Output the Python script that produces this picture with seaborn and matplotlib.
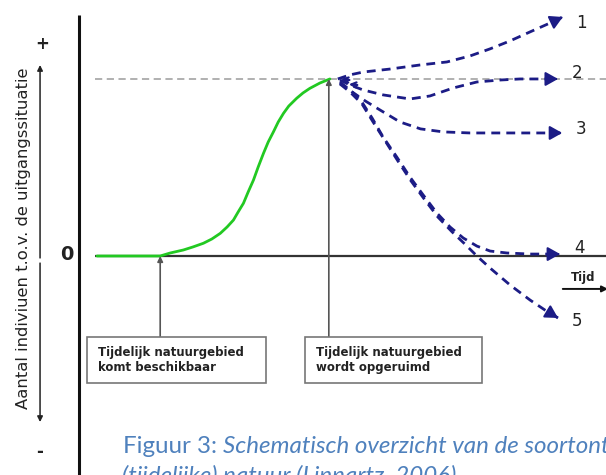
import pandas as pd
import matplotlib.pyplot as plt
import seaborn as sns
from matplotlib.patches import Rectangle

sns.set_style("white")
plt.rcParams['font.family'] = ['DejaVu Sans']

# Groei op tijdelijk natuurgebied (tijd in eenheden, aantal t.o.v. uitgangssituatie, piek = 100)
groei_tijd = [3.4, 15.4, 17.3, 19.8, 21.6, 23.6, 25.2, 26.8, 28.1, 29.3, 30.2, 31.2, 32.1, 33.1,
              34.0, 35.0, 35.9, 36.9, 37.8, 38.8, 39.8, 41.3, 42.5, 43.8, 45.7, 47.6]
groei_aantal = [0, 0, 1.7, 3.4, 5.1, 7.2, 9.6, 12.8, 16.4, 20.3, 24.9, 29.8, 36.2, 42.9,
                50.3, 58.0, 64.4, 70.2, 75.7, 80.6, 84.7, 89.1, 92.1, 94.7, 97.7, 100]

# Scenario's na het opruimen van het gebied
s1_tijd = [49.1, 51.4, 53.9, 59.0, 64.7, 69.8, 74.2, 78.0, 81.8, 85.6, 89.0, 91.8]
s1_aantal = [100, 102.3, 103.9, 105.6, 107.9, 109.6, 113.0, 117.0, 121.5, 126.6, 131.1, 135.0]
s2_tijd = [49.5, 51.4, 53.9, 57.7, 62.8, 66.6, 71.0, 75.5, 79.9, 83.7, 90.9]
s2_aantal = [99.4, 96.6, 93.8, 91.0, 88.7, 90.4, 94.9, 98.3, 99.4, 100, 100]
s3_tijd = [49.5, 51.8, 54.3, 57.1, 60.9, 64.8, 69.1, 74.2, 91.7]
s3_aantal = [98.3, 92.7, 87.6, 82.5, 75.7, 71.8, 70.1, 69.5, 69.5]
s4_tijd = [49.5, 51.4, 53.3, 55.6, 57.7, 60.3, 62.8, 65.3, 67.9, 70.4, 72.9, 75.5, 78.0, 81.2,
           85.6, 91.3]
s4_aantal = [97.7, 93.8, 88.7, 78.0, 67.2, 55.9, 44.6, 34.5, 24.3, 16.4, 10.2, 5.6, 2.8, 1.7,
             1.1, 1.1]
s5_tijd = [49.5, 51.4, 53.7, 55.8, 58.1, 60.5, 63.0, 65.5, 68.1, 70.8, 73.2, 75.5, 78.0, 81.8,
           85.6, 88.4, 90.9]
s5_aantal = [97.2, 92.7, 85.9, 75.7, 65.0, 53.7, 42.4, 32.2, 22.0, 13.6, 6.8, 0, -6.8, -16.4,
             -24.9, -30.5, -35.0]
scenario_labels = ['1', '2', '3', '4', '5']

moment_beschikbaar = 15.4
moment_opgeruimd = 47.4
box_teksten = ['Tijdelijk natuurgebied\nkomt beschikbaar',
               'Tijdelijk natuurgebied\nwordt opgeruimd']

groen = '#22c922'
blauw = '#1c1c86'
caption_kleur = '#4f81bd'

fig = plt.figure(figsize=(6.06, 4.75), dpi=100)
ax = fig.add_axes([0, 0, 1, 1])
ax.set_xlim(-15, 100)
ax.set_ylim(-123.7, 144.6)
ax.axis('off')

# assen
ax.vlines(0, -130, 136.2, color='#111111', lw=2.2)
ax.hlines(0, 3.0, 100, color='#333333', lw=1.6)
ax.hlines(100, 3.0, 100, color='#aaaaaa', lw=1.3, linestyles=(0, (4, 2.5)))

# groeicurve
sns.lineplot(x=groei_tijd, y=groei_aantal, ax=ax, color=groen, lw=2.0, sort=False)

# scenario's
scenarios = [(s1_tijd, s1_aantal), (s2_tijd, s2_aantal), (s3_tijd, s3_aantal),
             (s4_tijd, s4_aantal), (s5_tijd, s5_aantal)]
label_dy = [-3.5, 3.5, 2.5, 3.5, -1.5]
for (t, v), lab, dy in zip(scenarios, scenario_labels, label_dy):
    df = pd.DataFrame({'tijd': t, 'aantal': v})
    sns.lineplot(data=df, x='tijd', y='aantal', ax=ax, color=blauw, lw=2.0,
                 sort=False, estimator=None)
    ax.lines[-1].set_linestyle((0, (3.2, 2.2)))
    # pijlpunt
    tx = t[-1] - 0.1 * (t[-1] - t[-2])
    ty = v[-1] - 0.1 * (v[-1] - v[-2])
    ax.annotate('', xy=(t[-1], v[-1]), xytext=(tx, ty),
                arrowprops=dict(arrowstyle='-|>,head_length=0.5,head_width=0.28',
                                color=blauw, lw=1.5, mutation_scale=15,
                                shrinkA=0, shrinkB=0))
    ax.text(t[-1] + 3.6, v[-1] + dy, lab, fontsize=12, color='#222222',
            ha='center', va='center')

# pijltjes terug bij het begin
for t0, v0 in [(49.7, 99.8), (51.2, 97.0)]:
    ax.annotate('', xy=(t0, v0), xytext=(t0 + 1.6, v0 - 0.4),
                arrowprops=dict(arrowstyle='->', color=blauw, lw=1.6, mutation_scale=9,
                                shrinkA=0, shrinkB=0))

# verticale pijlen en kaders
for moment, tekst, x0, breedte in zip([moment_beschikbaar, moment_opgeruimd], box_teksten,
                                      [1.5, 42.9], [34.0, 33.6]):
    top = 100 if moment == moment_opgeruimd else 0
    ax.annotate('', xy=(moment, top), xytext=(moment, -45.8),
                arrowprops=dict(arrowstyle='-|>', color='#555555', lw=1.2,
                                mutation_scale=8, shrinkA=0, shrinkB=0))
    ax.add_patch(Rectangle((x0, -71.8), breedte, 26.0, facecolor='white',
                           edgecolor='#777777', lw=1.2, zorder=3))
    ax.text(x0 + 2.1, -58.8, tekst, fontsize=8.5, fontweight='bold', color='#222222',
            ha='left', va='center', linespacing=1.25, zorder=4)

# tijd-as label
ax.text(95.6, -11.9, 'Tijd', fontsize=8.5, fontweight='bold', color='#222222',
        ha='center', va='center')
ax.annotate('', xy=(100.4, -18.6), xytext=(91.8, -18.6), annotation_clip=False,
            arrowprops=dict(arrowstyle='-|>', color='#111111', lw=1.4,
                            mutation_scale=9, shrinkA=0, shrinkB=0))

# y-as aanduiding
ax.text(-2.3, 0.6, '0', fontsize=14, fontweight='bold', color='#222222', ha='center', va='center')
ax.text(-7.0, 119.8, '+', fontsize=12, fontweight='bold', color='#222222', ha='center', va='center')
ax.text(-7.4, -110.7, '-', fontsize=12, fontweight='bold', color='#222222', ha='center', va='center')
ax.annotate('', xy=(-7.4, 107.9), xytext=(-7.4, -1.1),
            arrowprops=dict(arrowstyle='-|>', color='#222222', lw=1.1,
                            mutation_scale=8, shrinkA=0, shrinkB=0))
ax.annotate('', xy=(-7.4, -93.8), xytext=(-7.4, -4.0),
            arrowprops=dict(arrowstyle='-|>', color='#222222', lw=1.1,
                            mutation_scale=8, shrinkA=0, shrinkB=0))
ax.text(-10.6, 10.2, 'Aantal indiviuen t.o.v. de uitgangssituatie', rotation=90,
        fontsize=11.8, color='#222222', ha='center', va='center')

# onderschrift
t1 = ax.text(8.35, -111.3, 'Figuur 3: ', fontsize=17.4, color=caption_kleur,
             family='Lato', ha='left', va='baseline')
ax.annotate('Schematisch overzicht van de soortontwikkeling op', xy=(1, 0),
            xycoords=t1, fontsize=17.4, color=caption_kleur, family='Lato',
            style='italic', ha='left', va='bottom', annotation_clip=False)
ax.text(8.2, -128.2, '(tijdelijke) natuur (Linnartz, 2006).', fontsize=17.4,
        color=caption_kleur, family='Lato', style='italic', ha='left', va='baseline')

fig.savefig('out.png', dpi=100)
